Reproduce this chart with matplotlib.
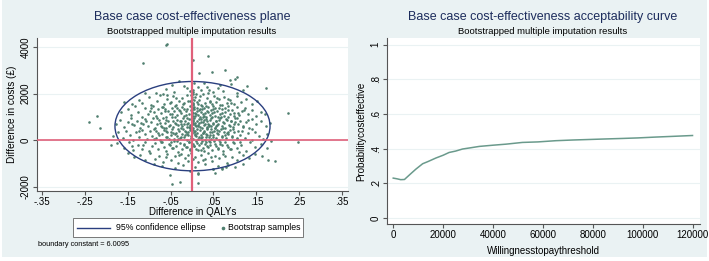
import numpy as np
import matplotlib
matplotlib.use("Agg")
import matplotlib.pyplot as plt
from matplotlib.patches import Ellipse, Rectangle
from matplotlib.lines import Line2D

plt.rcParams['font.family'] = ['Liberation Sans', 'DejaVu Sans']

# bootstrap samples (difference in QALYs, difference in costs)
qaly_diff = [
    # y 2000..2600
    -0.085, -0.060, -0.042, -0.020, -0.005, 0.004, 0.010, 0.022, 0.035, 0.048,
    0.060, 0.072, 0.090, 0.105, 0.118, -0.110, -0.030, 0.015, 0.002, 0.040,
    -0.068, 0.128,
    # y 1500..2000
    -0.140, -0.125, -0.118, -0.100, -0.095, -0.082, -0.075, -0.066, -0.058, -0.050,
    -0.044, -0.037, -0.030, -0.024, -0.018, -0.012, -0.006, 0.000, 0.003, 0.007,
    0.012, 0.017, 0.021, 0.026, 0.031, 0.036, 0.041, 0.046, 0.052, 0.057,
    0.063, 0.069, 0.075, 0.082, 0.089, 0.097, 0.106, 0.115, 0.127, 0.140,
    0.152, -0.160, 0.001, -0.002, 0.005,
    # y 1000..1500
    -0.165, -0.150, -0.142, -0.133, -0.126, -0.118, -0.111, -0.104, -0.098, -0.091,
    -0.085, -0.079, -0.073, -0.068, -0.062, -0.057, -0.052, -0.047, -0.043, -0.039,
    -0.035, -0.031, -0.027, -0.023, -0.019, -0.015, -0.011, -0.008, -0.004, -0.001,
    0.002, 0.005, 0.008, 0.011, 0.014, 0.017, 0.020, 0.023, 0.026, 0.029,
    0.032, 0.035, 0.038, 0.041, 0.044, 0.047, 0.050, 0.054, 0.058, 0.062,
    0.066, 0.070, 0.074, 0.078, 0.083, 0.088, 0.093, 0.098, 0.104, 0.110,
    0.116, 0.123, 0.131, 0.140, 0.150, 0.160, 0.170, -0.020, 0.001, 0.031,
    0.052, -0.064, 0.085, -0.090, 0.012,
    # y 500..1000
    -0.178, -0.168, -0.158, -0.150, -0.142, -0.135, -0.128, -0.121, -0.115, -0.109,
    -0.103, -0.097, -0.092, -0.087, -0.082, -0.077, -0.072, -0.068, -0.064, -0.060,
    -0.056, -0.052, -0.048, -0.044, -0.040, -0.036, -0.033, -0.029, -0.026, -0.022,
    -0.019, -0.016, -0.013, -0.010, -0.007, -0.004, -0.001, 0.002, 0.005, 0.008,
    0.011, 0.014, 0.017, 0.020, 0.023, 0.026, 0.029, 0.032, 0.035, 0.038,
    0.041, 0.044, 0.047, 0.050, 0.053, 0.057, 0.061, 0.065, 0.069, 0.073,
    0.077, 0.081, 0.086, 0.091, 0.096, 0.101, 0.107, 0.113, 0.119, 0.126,
    0.133, 0.141, 0.150, 0.160, 0.172, 0.182, -0.045, -0.008, 0.018, 0.040,
    0.064, -0.025, 0.003, 0.027, -0.070, 0.097, -0.120, 0.010, 0.055, -0.003,
    # y 0..500
    -0.185, -0.172, -0.162, -0.154, -0.146, -0.138, -0.131, -0.124, -0.117, -0.111,
    -0.105, -0.099, -0.094, -0.089, -0.084, -0.079, -0.074, -0.070, -0.066, -0.062,
    -0.058, -0.054, -0.050, -0.046, -0.042, -0.038, -0.035, -0.031, -0.028, -0.024,
    -0.021, -0.018, -0.015, -0.012, -0.009, -0.006, -0.003, 0.000, 0.003, 0.006,
    0.009, 0.012, 0.015, 0.018, 0.021, 0.024, 0.027, 0.030, 0.033, 0.036,
    0.039, 0.042, 0.045, 0.048, 0.051, 0.055, 0.059, 0.063, 0.067, 0.071,
    0.075, 0.079, 0.084, 0.089, 0.094, 0.099, 0.105, 0.111, 0.117, 0.124,
    0.131, 0.139, 0.147, 0.156, 0.166, 0.176, -0.060, -0.033, 0.008, 0.035,
    0.058, -0.010, 0.020, -0.045, 0.078, -0.090, 0.044, 0.001, 0.026, -0.016,
    # y -500..0
    -0.175, -0.160, -0.148, -0.137, -0.127, -0.118, -0.109, -0.101, -0.093, -0.086,
    -0.079, -0.072, -0.066, -0.060, -0.054, -0.048, -0.043, -0.038, -0.033, -0.028,
    -0.023, -0.018, -0.013, -0.008, -0.004, 0.001, 0.005, 0.009, 0.013, 0.017,
    0.021, 0.025, 0.029, 0.033, 0.037, 0.041, 0.046, 0.051, 0.056, 0.061,
    0.066, 0.072, 0.078, 0.084, 0.091, 0.098, 0.106, 0.115, 0.125, 0.136,
    0.148, 0.162, 0.176, -0.140, 0.070, 0.020, -0.050, 0.110, -0.005, 0.040,
    # y -1000..-500
    -0.150, -0.135, -0.122, -0.110, -0.098, -0.087, -0.077, -0.067, -0.058, -0.049,
    -0.041, -0.033, -0.025, -0.017, -0.009, -0.002, 0.006, 0.014, 0.022, 0.030,
    0.038, 0.046, 0.054, 0.063, 0.072, 0.082, 0.093, 0.105, 0.118, 0.132,
    0.148, 0.163, -0.010, 0.025, -0.060,
    # y -1500..-1000
    -0.070, -0.040, -0.022, -0.006, 0.008, 0.030, 0.048, 0.060, 0.085, 0.100,
    -0.090, 0.070, 0.015, 0.120,
    # outliers
    -0.062, -0.058, 0.002, 0.037, -0.114, 0.016, 0.046, 0.077, 0.104, 0.100,
    0.089, 0.172, 0.247, 0.225, 0.178, 0.194, 0.184, -0.240, -0.222, -0.215,
    -0.189, -0.051, -0.047, -0.028, 0.015, 0.013, 0.054, 0.069, 0.079, 0.050,
    # dense core
    -0.071, -0.052, -0.036, -0.021, -0.009, 0.004, 0.013, 0.024, 0.033, 0.043,
    0.054, 0.066, 0.078, 0.091, -0.064, -0.046, -0.029, -0.014, 0.000, 0.009,
    0.019, 0.028, 0.037, 0.048, 0.060, 0.071, 0.084, 0.097, 0.108, -0.081,
    -0.060, -0.041, -0.027, -0.011, 0.001, 0.007, 0.016, 0.025, 0.034, 0.045,
    0.056, 0.068, 0.079, 0.092, 0.104, -0.074, -0.055, -0.038, -0.023, -0.012,
    -0.002, 0.006, 0.015, 0.022, 0.031, 0.039, 0.049, 0.059, 0.074, 0.088,
    0.100, -0.085, -0.066, -0.049, -0.032, -0.017, -0.005, 0.004, 0.011, 0.019,
    0.028, 0.036, 0.046, 0.053, 0.062, 0.072, 0.083, 0.095, 0.108, -0.078,
    -0.058, -0.040, -0.026, -0.013, -0.002, 0.007, 0.016, 0.025, 0.032, 0.041,
    0.050, 0.061, 0.070, 0.082, 0.093, 0.106, -0.070, -0.052, -0.036, -0.020,
    -0.007, 0.004, 0.012, 0.023, 0.031, 0.042, 0.054, 0.066, 0.081, 0.096,
    -0.044, -0.015, 0.010, 0.036, 0.060, 0.088, -0.030, 0.002, 0.044, 0.077,
    0.000, 0.002, 0.001, -0.001, 0.002, 0.000, 0.003, -0.003, 0.001, 0.002,
    -0.095, -0.108, -0.125, 0.118, 0.130, 0.122, -0.115, 0.112, 0.140, -0.140,
    0.018, -0.038, 0.058, 0.083, -0.058, 0.038, -0.012, 0.065, 0.028, -0.047,
]

cost_diff = [
    # y 2000..2600
    2050, 2210, 2080, 2350, 2120, 2460, 2010, 2180, 2300, 2060,
    2240, 2120, 2400, 2030, 2150, 2020, 2550, 2270, 2070, 2140,
    2010, 2330,
    # y 1500..2000
    1540, 1720, 1600, 1850, 1530, 1690, 1930, 1580, 1770, 1640,
    1890, 1520, 1710, 1830, 1600, 1960, 1680, 1790, 1550, 1880,
    1640, 1750, 1520, 1980, 1610, 1820, 1700, 1560, 1900, 1660,
    1780, 1530, 1870, 1620, 1740, 1580, 1920, 1650, 1760, 1560,
    1700, 1640, 1620, 1940, 1720,
    # y 1000..1500
    1200, 1350, 1080, 1460, 1230, 1020, 1390, 1150, 1280, 1470,
    1060, 1330, 1190, 1420, 1010, 1270, 1130, 1380, 1240, 1490,
    1070, 1310, 1170, 1440, 1030, 1260, 1360, 1120, 1480, 1210,
    1050, 1340, 1180, 1410, 1090, 1300, 1220, 1470, 1140, 1370,
    1020, 1250, 1430, 1110, 1320, 1190, 1490, 1060, 1280, 1400,
    1150, 1350, 1040, 1230, 1460, 1120, 1300, 1190, 1420, 1080,
    1260, 1380, 1140, 1310, 1050, 1220, 1120, 1330, 1390, 1160,
    1210, 1340, 1010, 1200, 1250,
    # y 500..1000
    720, 880, 560, 790, 950, 640, 830, 520, 710, 910,
    600, 770, 980, 540, 690, 860, 620, 940, 750, 510,
    820, 670, 990, 580, 730, 890, 640, 810, 530, 960,
    700, 850, 590, 760, 920, 650, 800, 550, 970, 680,
    840, 610, 740, 900, 520, 780, 660, 930, 570, 720,
    870, 630, 990, 760, 540, 830, 690, 950, 600, 770,
    510, 880, 660, 810, 560, 940, 710, 850, 620, 780,
    530, 900, 690, 820, 600, 760, 850, 580, 990, 640,
    870, 720, 690, 880, 560, 700, 740, 610, 600, 930,
    # y 0..500
    180, 340, 90, 420, 250, 30, 370, 160, 460, 280,
    60, 390, 200, 490, 120, 330, 10, 260, 440, 150,
    360, 80, 230, 470, 40, 310, 190, 410, 100, 270,
    480, 140, 350, 20, 220, 430, 110, 300, 70, 400,
    170, 330, 50, 450, 240, 130, 380, 20, 290, 470,
    160, 350, 80, 250, 420, 120, 320, 30, 490, 200,
    380, 90, 270, 440, 150, 340, 60, 230, 410, 110,
    300, 20, 380, 190, 70, 290, 410, 60, 260, 210,
    450, 370, 110, 320, 240, 60, 480, 460, 330, 230,
    # y -500..0
    -120, -310, -60, -420, -200, -350, -80, -470, -240, -130,
    -390, -50, -280, -440, -170, -330, -20, -250, -480, -110,
    -370, -190, -300, -70, -430, -160, -260, -30, -400, -210,
    -120, -340, -460, -80, -290, -180, -410, -40, -230, -360,
    -140, -450, -60, -270, -390, -110, -320, -200, -440, -90,
    -280, -150, -330, -250, -200, -420, -90, -480, -350, -20,
    # y -1000..-500
    -560, -720, -610, -860, -540, -780, -650, -930, -570, -820,
    -690, -980, -600, -760, -880, -530, -710, -940, -620, -800,
    -550, -900, -680, -760, -590, -960, -700, -830, -640, -750,
    -580, -680, -640, -850, -700,
    # y -1500..-1000
    -1080, -1200, -1050, -1320, -1120, -1010, -1240, -1100, -1060, -1150,
    -1020, -1190, -1400, -1000,
    # outliers
    4100, 4130, 3457, 3629, 3311, 2881, 2924, 3027, 2709, 2650,
    2597, 2253, -86, 1161, -843, -903, -13, 804, 1062, 516,
    -215, -1488, -1849, -1763, -1445, -1832, -1402, -1217, -1144, -1217,
    # dense core
    1450, 1610, 1380, 1540, 1700, 1420, 1580, 1350, 1490, 1630,
    1380, 1520, 1410, 1600, 1250, 1130, 1270, 1090, 1290, 1140,
    1330, 1060, 1200, 1350, 1010, 1170, 1290, 1050, 1180, 960,
    880, 1010, 840, 970, 860, 1030, 900, 1010, 820, 950,
    850, 1000, 900, 830, 980, 740, 600, 710, 620, 700,
    610, 750, 660, 790, 700, 600, 720, 640, 730, 620,
    780, 420, 520, 380, 470, 390, 520, 350, 470, 560,
    420, 520, 370, 540, 410, 520, 370, 480, 400, 220,
    130, 260, 160, 290, 180, 250, 140, 300, 160, 240,
    130, 280, 150, 310, 200, 120, -60, -180, -40, -140,
    -60, -220, -100, -40, -170, -90, -140, -50, -180, -80,
    -330, -280, -350, -260, -310, -370, -620, -780, -700, -650,
    1850, 1520, 1180, 960, 760, 540, 1980, 1320, 2150, 850,
    1380, 850, 400, 560, 860, 1320, -180, -50, 480, 720,
    1890, 1820, 1820, 1760, 1930, 2050, 2260, 2380, 2450, 2380,
]

# 95% confidence ellipse (centre and semi-axes)
ell_center = (0.001, 610)
ell_half_w = 0.181
ell_half_h = 1915

# acceptability curve
wtp = [0, 1500, 3000, 4500, 5100, 7000, 9100, 11800, 14000, 17100, 20000, 22400,
       25000, 27800, 31000, 34500, 40000, 45200, 51800, 58000, 65200, 72000,
       78600, 85000, 91900, 98000, 105300, 112000, 120000]
prob_ce = [0.230, 0.226, 0.221, 0.222, 0.230, 0.255, 0.282, 0.313, 0.326, 0.346,
           0.362, 0.378, 0.386, 0.398, 0.405, 0.413, 0.420, 0.426, 0.436, 0.439,
           0.446, 0.450, 0.453, 0.456, 0.459, 0.462, 0.467, 0.471, 0.476]

BG = '#eaf2f3'
TITLE = '#1c2c5c'
PT = '#4f7f6f'
NAVY = '#2a3f7f'
RED = '#e0607a'
GRID = '#eaf2f3'
AXC = '#555555'
W, H = 709, 261

fig = plt.figure(figsize=(7.09, 2.61), dpi=100, facecolor='white')
fig.patches.append(Rectangle((0.003, 0.016), 0.994, 0.984, transform=fig.transFigure,
                             facecolor=BG, edgecolor='none', zorder=-10))


def style_axes(ax):
    for s in ['top', 'right']:
        ax.spines[s].set_visible(False)
    for s in ['left', 'bottom']:
        ax.spines[s].set_color(AXC)
        ax.spines[s].set_linewidth(0.8)
    ax.tick_params(colors=AXC, labelcolor='black', labelsize=7, length=3, width=0.8, pad=1.5)
    ax.set_facecolor('white')
    ax.grid(axis='y', color=GRID, linewidth=0.8, zorder=0)
    ax.set_axisbelow(True)


# ---- left: cost-effectiveness plane
ax1 = fig.add_axes([37/W, 70/H, 311/W, 153/H])
style_axes(ax1)
ax1.set_xlim(-0.362, 0.364)
ax1.set_ylim(-2170, 4390)
ax1.set_yticks([-2000, 0, 2000, 4000])
ax1.set_yticklabels(['-2000', '0', '2000', '4000'], rotation=90, va='center')
xt = [-0.35, -0.25, -0.15, -0.05, 0.05, 0.15, 0.25, 0.35]
ax1.set_xticks(xt)
ax1.set_xticklabels(['-.35', '-.25', '-.15', '-.05', '.05', '.15', '.25', '.35'])

ax1.scatter(qaly_diff, cost_diff, s=3.5, color=PT, linewidths=0, zorder=2)
ax1.add_patch(Ellipse(ell_center, 2*ell_half_w, 2*ell_half_h, fill=False,
                      edgecolor=NAVY, linewidth=1.0, zorder=3))
ax1.axvline(0, color=RED, linewidth=1.6, zorder=4)
ax1.axhline(0, color=RED, linewidth=1.2, zorder=4)

ax1.set_xlabel('Difference in QALYs', fontsize=7, labelpad=0)
ax1.set_ylabel('Difference in costs (£)', fontsize=7.2, labelpad=3)

fig.text(192/W, 1 - 17/H, 'Base case cost-effectiveness plane', ha='center', va='center',
         fontsize=9, color=TITLE)
fig.text(192/W, 1 - 31/H, 'Bootstrapped multiple imputation results', ha='center',
         va='center', fontsize=6.8)

# legend box
fig.patches.append(Rectangle((73/W, 1 - 237/H), 230/W, 19/H, transform=fig.transFigure,
                             facecolor='white', edgecolor='#777777', linewidth=0.7))
fig.lines.append(Line2D([77/W, 110/W], [1 - 227.5/H] * 2, transform=fig.transFigure,
                        color=NAVY, linewidth=1.0))
fig.text(116/W, 1 - 227.5/H, '95% confidence ellipse', fontsize=6.3, va='center')
fig.lines.append(Line2D([223/W], [1 - 227.5/H], transform=fig.transFigure,
                        color=PT, marker='o', markersize=1.6, linestyle='none'))
fig.text(228/W, 1 - 227.5/H, 'Bootstrap samples', fontsize=6.3, va='center')
fig.text(38/W, 1 - 244/H, 'boundary constant = 6.0095', fontsize=5.3, va='center')

# ---- right: acceptability curve
ax2 = fig.add_axes([387/W, 37/H, 313/W, 186/H])
style_axes(ax2)
ax2.set_xlim(-2500, 123000)
ax2.set_ylim(-0.035, 1.039)
ax2.set_yticks([0, 0.2, 0.4, 0.6, 0.8, 1.0])
ax2.set_yticklabels(['0', '.2', '.4', '.6', '.8', '1'], rotation=90, va='center')
ax2.set_xticks([0, 20000, 40000, 60000, 80000, 100000, 120000])
ax2.set_xticklabels(['0', '20000', '40000', '60000', '80000', '100000', '120000'])
ax2.plot(wtp, prob_ce, color='#6a9a8c', linewidth=1.1)
ax2.set_xlabel('Willingnesstopaythreshold', fontsize=7, labelpad=4)
ax2.set_ylabel('Probabilitycosteffective', fontsize=7, labelpad=3)

fig.text(543/W, 1 - 17/H, 'Base case cost-effectiveness acceptability curve',
         ha='center', va='center', fontsize=9, color=TITLE)
fig.text(543/W, 1 - 31/H, 'Bootstrapped multiple imputation results', ha='center',
         va='center', fontsize=6.8)

fig.savefig('out.png', dpi=100, facecolor='white')
